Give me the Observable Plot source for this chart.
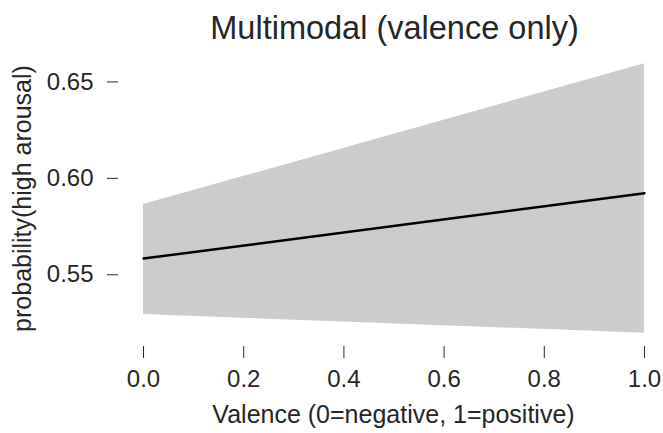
<!DOCTYPE html>
<html>
<head>
<meta charset="utf-8">
<script src="https://cdn.jsdelivr.net/npm/d3@7"></script>
<script src="https://cdn.jsdelivr.net/npm/@observablehq/plot@0.6"></script>
<style>
  html, body { margin: 0; padding: 0; background: #fff; }
</style>
</head>
<body>
<div id="chart"></div>
<script>
// Data
const valence = [0, 1];
const predicted = [0.5584, 0.5923];
const lower = [0.5294, 0.5197];
const upper = [0.5864, 0.6594];
const xTicks = [0, 0.2, 0.4, 0.6, 0.8, 1.0];
const yTicks = [0.55, 0.60, 0.65];
const title = "Multimodal (valence only)";
const xLabel = "Valence (0=negative, 1=positive)";
const yLabel = "probability(high arousal)";

const data = valence.map((v, i) => ({x: v, y: predicted[i], lo: lower[i], hi: upper[i]}));
const textColor = "#262626";

const plot = Plot.plot({
  width: 663,
  height: 433,
  marginTop: 50,
  marginBottom: 87,
  marginLeft: 118,
  marginRight: 0,
  style: {fontFamily: "'Liberation Sans', Arial, sans-serif", fontSize: "24px", color: textColor, background: "#fff"},
  x: {domain: [-0.05, 1.038]},
  y: {domain: [0.5128, 0.6663]},
  marks: [
    Plot.areaY(data, {x: "x", y1: "lo", y2: "hi", fill: "#cccccc"}),
    Plot.lineY(data, {x: "x", y: "y", stroke: "#000", strokeWidth: 2.5}),
    Plot.axisX({ticks: xTicks, tickFormat: d3.format(".1f"), tickSize: 12, tickPadding: 11, label: null, fontSize: 24}),
    Plot.axisY({ticks: yTicks, tickFormat: d3.format(".2f"), tickSize: 11, tickPadding: 14, label: null, fontSize: 24}),
    Plot.text([title], {text: d => d, frameAnchor: "top", dy: -22, dx: 3.5, lineAnchor: "middle", fontSize: 32.5, fill: textColor}),
    Plot.text([xLabel], {text: d => d, frameAnchor: "bottom", dy: 68, dx: 2.5, lineAnchor: "middle", fontSize: 25, fill: textColor}),
    Plot.text([yLabel], {text: d => d, frameAnchor: "left", dx: -96, rotate: -90, textAnchor: "middle", lineAnchor: "middle", fontSize: 25, fill: textColor})
  ]
});
document.getElementById("chart").appendChild(plot);
</script>
</body>
</html>
